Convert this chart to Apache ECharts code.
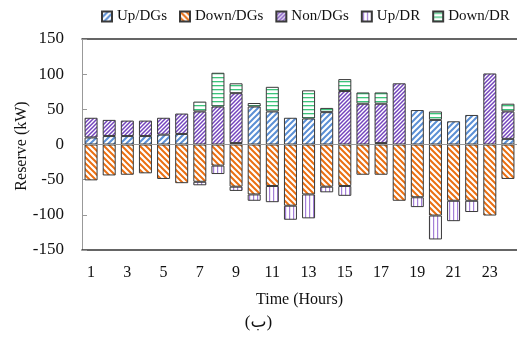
<!DOCTYPE html>
<html><head><meta charset="utf-8">
<script src="https://cdn.jsdelivr.net/npm/echarts@6/dist/echarts.min.js"></script>
<style>html,body{margin:0;padding:0;background:#fff}#c{width:517px;height:343px}</style>
</head><body><div id="c"></div>
<script>
const hours = ['1','2','3','4','5','6','7','8','9','10','11','12','13','14','15','16','17','18','19','20','21','22','23','24'];
const upDGs   = [10,12,12,12,14,15,null,null,2,54,47,38,37,46,null,null,2,null,49,35,33,42,null,8];
const nonDGs  = [28,23,22,22,24,29,47,54,71,null,null,null,null,null,76,58,56,87,null,null,null,null,101,39];
const downDR  = [null,null,null,null,null,null,14,48,14,5,35,null,40,6,17,16,16,null,null,12,null,null,null,11];
const downDGs = [-51,-44,-43,-41,-49,-55,-53,-30,-60,-71,-59,-87,-71,-60,-59,-43,-43,-80,-75,-101,-80,-80,-101,-49];
const upDR    = [null,null,null,null,null,null,-5,-12,-6,-9,-23,-20,-34,-8,-14,null,null,null,-14,-34,-29,-16,null,null];
const yTicks = {min:-150, max:150, interval:50};

function pat(kind){
  const s = kind==='non'?4:(kind==='up'||kind==='down'?6:4);
  const c = document.createElement('canvas'); c.width=s; c.height=s;
  const g = c.getContext('2d');
  g.fillStyle='#fff'; g.fillRect(0,0,s,s);
  if(kind==='up'||kind==='down'||kind==='non'){
    g.strokeStyle = kind==='up'?'#5b8fd4':(kind==='down'?'#ea6f12':'#7444bd');
    g.lineWidth = kind==='non'?1.5:2;
    g.beginPath();
    if(kind==='down'){
      g.moveTo(0,0);g.lineTo(s,s);g.moveTo(-s/2,s/2);g.lineTo(s/2,s*1.5);g.moveTo(s/2,-s/2);g.lineTo(s*1.5,s/2);
    } else {
      g.moveTo(0,s);g.lineTo(s,0);g.moveTo(-s/2,s/2);g.lineTo(s/2,-s/2);g.moveTo(s/2,s*1.5);g.lineTo(s*1.5,s/2);
    }
    g.stroke();
  } else if(kind==='updr'){
    g.fillStyle='#a47fd8'; g.fillRect(1,0,1.2,s);
  } else if(kind==='downdr'){
    g.fillStyle='#3cc47a'; g.fillRect(0,1,s,1.3);
  }
  return {image:c, repeat:'repeat'};
}
const font = 'Liberation Serif, Times New Roman, serif';
const border = {borderColor:'#3a3a3a', borderWidth:1};
function ser(name, data, kind){
  return {name, type:'bar', stack:'a', data, barWidth:13,
    itemStyle:Object.assign({color:pat(kind)}, border), emphasis:{disabled:true}};
}
const s1 = ser('Up/DGs', upDGs, 'up');
s1.markLine = {silent:true, symbol:'none', label:{show:false}, lineStyle:{color:'#999', type:'solid', width:1}, data:[{yAxis:0}]};
const option = {
  animation:false,
  textStyle:{fontFamily:font},
  legend:{top:9, left:101, padding:0, width:416, icon:'rect', itemWidth:10, itemHeight:10, itemGap:12,
    textStyle:{fontFamily:font, fontSize:15, color:'#111'},
    data:['Up/DGs','Down/DGs','Non/DGs','Up/DR','Down/DR']},
  grid:{left:82, right:-3, top:39, bottom:93},
  xAxis:[
    {type:'category', data:hours, position:'bottom',
     axisLine:{onZero:false, lineStyle:{color:'#333', width:1.5}}, axisTick:{show:false},
     axisLabel:{interval:1, color:'#111', fontSize:16, fontFamily:font, margin:15},
     name:'Time (Hours)', nameLocation:'middle', nameGap:42,
     nameTextStyle:{fontSize:16, color:'#111', fontFamily:font}},
    {type:'category', data:hours, position:'top',
     axisLine:{onZero:false, lineStyle:{color:'#333', width:1.5}}, axisTick:{show:false}, axisLabel:{show:false}}
  ],
  yAxis:{type:'value', min:yTicks.min, max:yTicks.max, interval:yTicks.interval,
    axisLine:{show:true, lineStyle:{color:'#999'}}, axisTick:{show:true, inside:true, length:5, lineStyle:{color:'#999'}},
    splitLine:{show:false},
    axisLabel:{color:'#111', fontSize:17, fontFamily:font, margin:18}},
  series:[
    s1,
    ser('Non/DGs', nonDGs, 'non'),
    ser('Down/DR', downDR, 'downdr'),
    ser('Down/DGs', downDGs, 'down'),
    ser('Up/DR', upDR, 'updr')
  ],
  graphic:[
    {type:'text', x:22, y:146, rotation:Math.PI/2, style:{text:'Reserve (kW)', fontSize:16, fontFamily:font, fill:'#111', align:'center', verticalAlign:'middle'}},
    {type:'text', left:'center', top:314, style:{text:'(ب)', fontSize:17, fontFamily:'Liberation Serif, DejaVu Sans, Noto Sans', fill:'#111'}}
  ]
};
const chart = echarts.init(document.getElementById('c'), null, {renderer:'canvas'});
chart.setOption(option);
</script></body></html>
